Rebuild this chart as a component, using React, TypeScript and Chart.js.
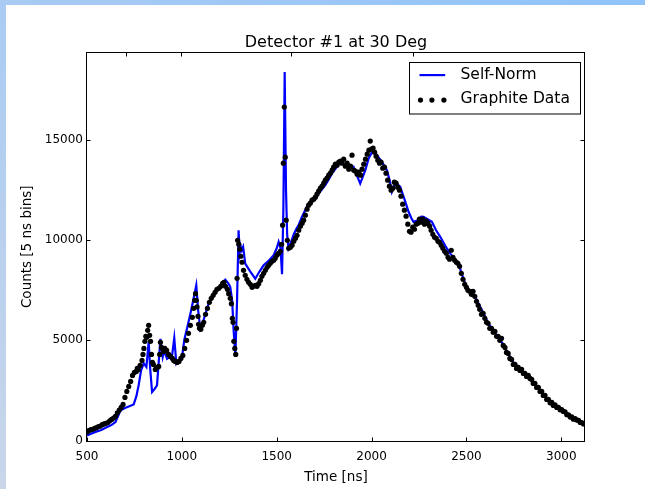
import React, { useEffect, useRef } from "react";
import { Chart, registerables } from "chart.js";

Chart.register(...registerables);

const TITLE = "Detector #1 at 30 Deg";
const X_LABEL = "Time [ns]";
const Y_LABEL = "Counts [5 ns bins]";
const LINE_LABEL = "Self-Norm";
const DOTS_LABEL = "Graphite Data";

const X_MIN = 500;
const X_MAX = 3125;
const Y_MIN = 0;
const Y_MAX = 19350;
const X_TICKS = [500, 1000, 1500, 2000, 2500, 3000];
const Y_TICKS = [0, 5000, 10000, 15000];
const TOP_TICKS = [706, 996, 1577, 2221];

// Self-Norm line
const SELF_T = [
  500, 518, 545, 575, 606, 630, 650, 665, 676, 700,
  720, 746, 760, 772, 785, 799, 813, 825, 833, 843,
  855, 869, 878, 887, 899, 907, 913, 922, 935, 948,
  960, 971, 982, 992, 1001, 1013, 1030, 1045, 1060, 1076,
  1086, 1097, 1108, 1119, 1130, 1141, 1160, 1185, 1205, 1229,
  1245, 1255, 1265, 1273, 1282, 1291, 1299, 1305, 1310, 1316,
  1323, 1334, 1360, 1387, 1410, 1431, 1460, 1484, 1500, 1510,
  1520, 1528, 1535, 1542, 1549, 1555, 1562, 1575, 1590, 1605,
  1615, 1630, 1645, 1660, 1680, 1703, 1730, 1756, 1775, 1791,
  1820, 1844, 1857, 1870, 1888, 1905, 1920, 1940, 1955, 1967,
  1985, 2002, 2015, 2028, 2055, 2081, 2095, 2107, 2120, 2134,
  2151, 2175, 2195, 2210, 2221, 2245, 2262, 2274, 2295, 2318,
  2340, 2362, 2390, 2415, 2440, 2458, 2480, 2503, 2520, 2529,
  2550, 2573, 2595, 2616, 2640, 2661, 2680, 2696, 2720, 2740,
  2760, 2784, 2820, 2853, 2890, 2924, 2960, 2994, 3030, 3064,
  3095, 3125,
];
const SELF_C = [
  250, 330, 430, 520, 670, 780, 920, 1250, 1500, 1620,
  1700, 1800, 2200, 2750, 3500, 3850, 3670, 4920, 3600, 2420,
  2550, 2750, 3900, 5080, 4170, 4500, 4330, 4080, 4150, 4200,
  5120, 3830, 3950, 4080, 4170, 5030, 5700, 6330, 7000, 7750,
  6500, 5580, 5800, 6170, 6500, 6830, 7200, 7500, 7750, 8030,
  7850, 7670, 7000, 5500, 4200, 7000, 10500, 9400, 9700, 9500,
  9670, 8830, 8450, 8080, 8450, 8750, 9000, 9250, 9600, 9920,
  9600, 8300, 11500, 18400, 12500, 10300, 9600, 9900, 10300, 10600,
  10750, 11100, 11400, 11700, 11900, 12080, 12450, 12750, 13050, 13330,
  13700, 13970, 13750, 13750, 13580, 13670, 13300, 12830, 13200, 13500,
  14100, 14380, 14350, 14250, 13900, 13500, 13000, 12420, 12750, 12830,
  12670, 12000, 11420, 11100, 10920, 11000, 11180, 11170, 11050, 10920,
  10500, 10170, 9700, 9330, 9050, 8830, 8200, 7580, 7480, 7500,
  7100, 6670, 6250, 5830, 5530, 5250, 5000, 4750, 4350, 4000,
  3780, 3580, 3250, 2920, 2500, 2080, 1800, 1580, 1320, 1080,
  950, 830,
];

// Graphite Data points
const DATA_T = [
  500, 510, 520, 530, 540, 550, 560, 570, 580, 590,
  600, 610, 620, 630, 640, 650, 660, 670, 680, 690,
  700, 710, 720, 730, 740, 750, 760, 765, 770, 780,
  790, 795, 800, 805, 810, 815, 820, 825, 830, 835,
  840, 845, 850, 860, 870, 878, 883, 887, 893, 900,
  905, 910, 920, 930, 940, 950, 957, 965, 975, 985,
  995, 1005, 1015, 1025, 1035, 1045, 1055, 1062, 1068, 1072,
  1076, 1080, 1085, 1088, 1093, 1100, 1108, 1115, 1125, 1135,
  1145, 1155, 1165, 1175, 1185, 1195, 1205, 1215, 1222, 1230,
  1240, 1247, 1255, 1261, 1266, 1270, 1274, 1279, 1284, 1288,
  1291, 1294, 1300, 1305, 1311, 1317, 1325, 1334, 1343, 1352,
  1361, 1370, 1378, 1387, 1396, 1405, 1414, 1422, 1431, 1440,
  1449, 1457, 1466, 1475, 1484, 1492, 1501, 1510, 1519, 1526,
  1531, 1535, 1540, 1545, 1550, 1556, 1563, 1572, 1581, 1590,
  1599, 1607, 1616, 1625, 1634, 1642, 1651, 1660, 1668, 1677,
  1686, 1695, 1704, 1712, 1721, 1730, 1739, 1748, 1756, 1765,
  1774, 1783, 1792, 1800, 1809, 1818, 1827, 1836, 1844, 1853,
  1862, 1871, 1880, 1889, 1897, 1906, 1915, 1924, 1933, 1942,
  1950, 1959, 1968, 1977, 1986, 1993, 2000, 2008, 2016, 2024,
  2033, 2042, 2050, 2059, 2068, 2076, 2085, 2094, 2103, 2112,
  2120, 2129, 2138, 2147, 2155, 2164, 2173, 2182, 2191, 2200,
  2208, 2217, 2226, 2235, 2244, 2252, 2261, 2270, 2279, 2288,
  2297, 2306, 2314, 2323, 2332, 2341, 2350, 2358, 2367, 2376,
  2385, 2394, 2403, 2411, 2420, 2429, 2438, 2447, 2455, 2464,
  2473, 2482, 2491, 2500, 2508, 2517, 2526, 2535, 2544, 2553,
  2562, 2570, 2579, 2588, 2597, 2606, 2614, 2623, 2632, 2641,
  2650, 2659, 2667, 2676, 2685, 2694, 2703, 2711, 2720, 2729,
  2738, 2747, 2756, 2764, 2773, 2782, 2791, 2800, 2808, 2817,
  2826, 2835, 2844, 2852, 2861, 2870, 2879, 2888, 2897, 2905,
  2914, 2923, 2932, 2941, 2950, 2958, 2967, 2976, 2985, 2994,
  3002, 3011, 3020, 3029, 3038, 3047, 3055, 3064, 3073, 3082,
  3091, 3100, 3108, 3117, 3125,
];
const DATA_C = [
  430, 500, 540, 560, 610, 640, 700, 720, 790, 830,
  860, 900, 980, 1050, 1120, 1200, 1380, 1520, 1650, 1800,
  2150, 2450, 2700, 2950, 3250, 3400, 3450, 3600, 3550, 3750,
  4000, 4300, 4600, 4950, 5200, 5150, 5500, 5750, 5250, 4950,
  4300, 3900, 3800, 3550, 3650, 3700, 4300, 4900, 4650, 4550,
  4450, 4600, 4500, 4300, 4200, 4100, 4000, 3950, 3900, 3950,
  4100, 4250, 4600, 5000, 5350, 5750, 6150, 6600, 7000, 7330,
  7000, 6670, 6200, 5800, 5600, 5550, 5750, 5900, 6300, 6600,
  6900, 7100, 7250, 7400, 7550, 7600, 7700, 7850, 7900, 7700,
  7550, 7330, 7100, 6830, 6100, 5900, 4950, 4600, 4300, 5600,
  8100, 10000, 9800, 9550, 9200, 8900, 8500, 8250, 8050, 7900,
  7800, 7650, 7700, 7750, 7700, 7830, 8000, 8200, 8350, 8500,
  8650, 8750, 8850, 8950, 9000, 9100, 9250, 9350, 9450, 9800,
  10750, 13850, 16650, 14150, 11000, 10000, 9600, 9650, 9750, 9950,
  10100, 10250, 10500, 10700, 10850, 11000, 11250, 11550, 11750, 11850,
  12000, 12050, 12150, 12300, 12450, 12600, 12700, 12850, 13000, 13100,
  13250, 13350, 13500, 13650, 13800, 13750, 13900, 13950, 13850, 14050,
  13700, 13850, 13550, 13700, 14250, 13500, 13450, 13300, 13400, 13250,
  13550, 13800, 14050, 14300, 14500, 14950, 14550, 14600, 14400, 14200,
  14000, 13850, 13900, 13600, 13650, 13350, 13000, 12700, 12500, 12600,
  12900, 12850, 12650, 12500, 12200, 11800, 11500, 11200, 10800, 10450,
  10400, 10650, 10550, 10800, 10850, 11050, 10900, 11050, 10800, 10950,
  10850, 10700, 10500, 10300, 10150, 10100, 9950, 9900, 9750, 9600,
  9450, 9350, 9150, 9050, 9500, 9150, 9000, 8900, 8850, 8700,
  8350, 8050, 7800, 7650, 7500, 7450, 7300, 7450, 7200, 6950,
  6750, 6550, 6300, 6350, 6100, 5900, 5850, 5600, 5600, 5400,
  5450, 5200, 5200, 5000, 5100, 4750, 4650, 4400, 4350, 4100,
  4050, 3800, 3800, 3600, 3650, 3500, 3550, 3350, 3350, 3200,
  3250, 3100, 3050, 2850, 2850, 2650, 2650, 2450, 2450, 2250,
  2250, 2050, 2050, 1880, 1900, 1750, 1780, 1650, 1650, 1530,
  1540, 1450, 1430, 1290, 1280, 1170, 1180, 1060, 1090, 1020,
  1000, 900, 900, 830, 840,
];

const FONT = "'DejaVu Sans', sans-serif";
const LINE_COLOR = "#0000ff";
const DOT_COLOR = "#000000";

const framePlugin = {
  id: "mplFrame",
  afterDraw(chart: any) {
    const { ctx, chartArea } = chart;
    const xs = chart.scales.x;
    const ys = chart.scales.y;
    const L = Math.round(chartArea.left) - 0.5;
    const R = Math.round(chartArea.right) - 0.5;
    const T = Math.round(chartArea.top) - 0.5;
    const B = Math.round(chartArea.bottom) + 0.5;
    ctx.save();
    ctx.strokeStyle = "#000";
    ctx.lineWidth = 1;
    ctx.strokeRect(L, T, R - L, B - T);
    const tl = 4;
    ctx.beginPath();
    X_TICKS.forEach((v) => {
      const px = Math.round(xs.getPixelForValue(v)) + 0.5;
      ctx.moveTo(px, B);
      ctx.lineTo(px, B - tl);
    });
    TOP_TICKS.forEach((v) => {
      const px = Math.round(xs.getPixelForValue(v)) + 0.5;
      ctx.moveTo(px, T);
      ctx.lineTo(px, T + tl);
    });
    Y_TICKS.forEach((v) => {
      const py = Math.round(ys.getPixelForValue(v)) + 0.5;
      ctx.moveTo(L, py);
      ctx.lineTo(L + tl, py);
      ctx.moveTo(R, py);
      ctx.lineTo(R - tl, py);
    });
    ctx.stroke();

    // title
    ctx.fillStyle = "#000";
    ctx.font = `16px ${FONT}`;
    ctx.textAlign = "center";
    ctx.textBaseline = "middle";
    ctx.fillText(TITLE, (chartArea.left + chartArea.right) / 2, chartArea.top - 10.5);

    // legend
    const bw = 171;
    const bh = 51.5;
    const bx = Math.round(chartArea.right - 5.5 - bw) + 0.5;
    const by = Math.round(chartArea.top + 8.7) + 0.5;
    ctx.fillStyle = "#fff";
    ctx.fillRect(bx, by, bw, bh);
    ctx.strokeStyle = "#000";
    ctx.lineWidth = 1;
    ctx.strokeRect(bx, by, bw, bh);
    const row1 = by + 12.6;
    const row2 = by + 36.6;
    ctx.strokeStyle = LINE_COLOR;
    ctx.lineWidth = 2.2;
    ctx.beginPath();
    ctx.moveTo(bx + 10, row1);
    ctx.lineTo(bx + 35.7, row1);
    ctx.stroke();
    ctx.fillStyle = DOT_COLOR;
    [11, 22.4, 34.4].forEach((dx) => {
      ctx.beginPath();
      ctx.arc(bx + dx, row2 + 1, 2.6, 0, Math.PI * 2);
      ctx.fill();
    });
    ctx.fillStyle = "#000";
    ctx.font = `15.5px ${FONT}`;
    ctx.textAlign = "left";
    ctx.textBaseline = "middle";
    ctx.fillText(LINE_LABEL, bx + 51, row1);
    ctx.fillText(DOTS_LABEL, bx + 51, row2);
    ctx.restore();
  },
};

export default function App() {
  const canvasRef = useRef<HTMLCanvasElement | null>(null);

  useEffect(() => {
    const canvas = canvasRef.current;
    if (!canvas) return;
    const chart = new Chart(canvas, {
      type: "line",
      data: {
        datasets: [
          {
            label: DOTS_LABEL,
            data: DATA_T.map((t, i) => ({ x: t, y: DATA_C[i] })),
            showLine: false,
            pointRadius: 2.6,
            pointBackgroundColor: DOT_COLOR,
            pointBorderColor: DOT_COLOR,
            pointBorderWidth: 0,
            pointHoverRadius: 2.6,
            order: 0,
          } as any,
          {
            label: LINE_LABEL,
            data: SELF_T.map((t, i) => ({ x: t, y: SELF_C[i] })),
            borderColor: LINE_COLOR,
            borderWidth: 2.2,
            pointRadius: 0,
            pointHoverRadius: 0,
            tension: 0,
            fill: false,
            order: 1,
          } as any,
        ],
      },
      options: {
        responsive: false,
        animation: false,
        devicePixelRatio: 1,
        events: [],
        layout: { padding: { top: 53, right: 60, left: 0, bottom: 0 } },
        plugins: {
          legend: { display: false },
          title: { display: false },
          tooltip: { enabled: false },
        },
        scales: {
          x: {
            type: "linear",
            min: X_MIN,
            max: X_MAX,
            afterBuildTicks: (s: any) => {
              s.ticks = X_TICKS.map((v) => ({ value: v }));
            },
            afterFit: (s: any) => {
              s.height = 48.5;
            },
            grid: { display: false, drawTicks: false },
            border: { display: false },
            ticks: {
              padding: 9,
              color: "#000",
              font: { family: FONT, size: 12 },
              maxRotation: 0,
              autoSkip: false,
              callback: (v: any) => String(v),
            },
            title: {
              display: true,
              text: X_LABEL,
              color: "#000",
              font: { family: FONT, size: 13.5 },
              padding: { top: 0, bottom: 3 },
            },
          },
          y: {
            type: "linear",
            min: Y_MIN,
            max: Y_MAX,
            afterBuildTicks: (s: any) => {
              s.ticks = Y_TICKS.map((v) => ({ value: v }));
            },
            afterFit: (s: any) => {
              s.width = 87;
            },
            grid: { display: false, drawTicks: false },
            border: { display: false },
            ticks: {
              padding: 4,
              color: "#000",
              font: { family: FONT, size: 12 },
              autoSkip: false,
              callback: (v: any) => String(v),
            },
            title: {
              display: true,
              text: Y_LABEL,
              color: "#000",
              font: { family: FONT, size: 13.5 },
              padding: { top: 19, bottom: 0 },
            },
          },
        },
      },
      plugins: [framePlugin],
    });
    return () => chart.destroy();
  }, []);

  return (
    <div
      style={{
        position: "fixed",
        left: 0,
        top: 0,
        width: 645,
        height: 489,
        overflow: "hidden",
        background: "#fff",
      }}
    >
      <div
        style={{
          position: "absolute",
          left: 0,
          top: 0,
          width: 645,
          height: 5,
          background: "linear-gradient(to right, #a9cbf3, #8fc3fa)",
        }}
      />
      <div
        style={{
          position: "absolute",
          left: 0,
          top: 0,
          width: 6,
          height: 489,
          background: "linear-gradient(to bottom, #a9cbf3, #c9d6ea)",
        }}
      />
      <canvas
        ref={canvasRef}
        width={645}
        height={489}
        style={{ position: "absolute", left: 0, top: 0, width: 645, height: 489 }}
      />
    </div>
  );
}
